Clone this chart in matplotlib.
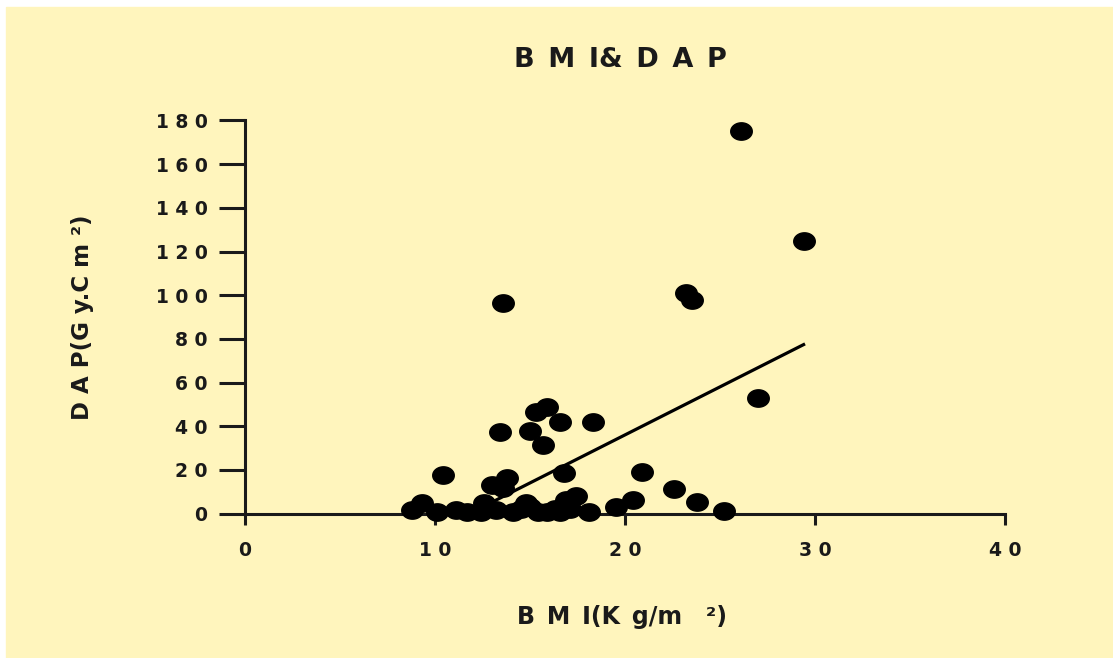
import numpy as np
import matplotlib
matplotlib.use("Agg")
import matplotlib.pyplot as plt
from matplotlib.path import Path
from matplotlib.patches import Rectangle

# --- data -----------------------------------------------------------------
BMI = [26.1, 29.4, 23.2, 23.5, 13.6, 27.0, 15.9, 15.3, 18.3, 16.6,
       13.4, 15.0, 15.7, 10.4, 20.9, 16.8, 13.8, 13.0, 13.6, 22.6,
       17.4, 16.9, 20.4, 23.8, 25.2, 19.5, 18.1,
       8.8, 9.3, 10.1, 11.1, 11.7, 12.4, 12.6, 13.2, 14.1, 14.5,
       14.8, 15.0, 15.4, 15.9, 16.3, 16.6, 17.1]
DAP = [175.2, 124.8, 101.0, 97.9, 96.4, 52.9, 48.8, 46.5, 41.9, 41.9,
       37.3, 37.8, 31.4, 17.6, 19.0, 18.6, 16.3, 13.1, 11.7, 11.2,
       8.0, 6.0, 6.2, 5.3, 1.1, 3.0, 0.9,
       1.4, 5.0, 0.8, 1.6, 0.5, 0.8, 4.6, 1.5, 0.8, 2.0,
       5.0, 2.8, 0.8, 0.8, 2.0, 0.8, 2.0]

# regression line
FIT_SLOPE = 4.4
FIT_INTERCEPT = -52.0

X_TICKS = [0, 10, 20, 30, 40]
Y_TICKS = [0, 20, 40, 60, 80, 100, 120, 140, 160, 180]

EN = "\u2002"
TITLE = EN.join("BMI") + "&" + EN + EN.join("DAP")
XLABEL = EN.join("BMI") + "(K" + EN + "g/m" + EN + EN + "\u00b2)"
YLABEL = " ".join("DAP") + "(G y.C m " + "\u00b2)"

BG = "#fff5bd"
INK = "#1a1a1a"


def spaced(v):
    # wide letter spacing like the original tick labels
    return " ".join(str(v))


plt.rcParams["font.family"] = "DejaVu Sans"
plt.rcParams["font.weight"] = "bold"

fig = plt.figure(figsize=(11.13, 6.58), dpi=100, facecolor="white")
# yellow panel with a thin white strip on the top and left
fig.patches.append(Rectangle((6 / 1113, 0), 1, (658 - 7) / 658,
                             transform=fig.transFigure, color=BG,
                             zorder=-10))

ax = fig.add_axes([245 / 1113, (658 - 513.5) / 658,
                   760 / 1113, 393 / 658])
ax.set_facecolor("none")

# slightly wide ellipse, like the stretched dots in the original
t = np.linspace(0, 2 * np.pi, 64)
ellipse = Path(np.column_stack([1.24 * np.cos(t), np.sin(t)]), closed=True)

ax.plot(BMI, DAP, linestyle="none", marker=ellipse, markersize=15.5,
        color="black", clip_on=False, zorder=3)

xs = np.array([min(BMI), max(BMI)])
ax.plot(xs, FIT_SLOPE * xs + FIT_INTERCEPT, color="black", linewidth=2.3,
        zorder=4)

ax.set_xlim(0, 40)
ax.set_ylim(0, 180)
ax.set_xticks(X_TICKS)
ax.set_xticklabels([spaced(v) for v in X_TICKS])
ax.set_yticks(Y_TICKS)
ax.set_yticklabels([spaced(v) for v in Y_TICKS])

for side in ("top", "right"):
    ax.spines[side].set_visible(False)
for side in ("left", "bottom"):
    ax.spines[side].set_linewidth(2.2)
    ax.spines[side].set_color(INK)

ax.tick_params(axis="y", length=19, width=2.2, color=INK, pad=8,
               labelsize=13.5, labelcolor=INK)
ax.tick_params(axis="x", length=8, width=2.2, color=INK, pad=12,
               labelsize=13.5, labelcolor=INK)

fig.text(620 / 1113, 1 - 60 / 658, TITLE, ha="center", va="center",
         fontsize=19.5, fontweight="bold", color=INK)
fig.text(622 / 1113, 1 - 617 / 658, XLABEL, ha="center", va="center",
         fontsize=17, fontweight="bold", color=INK)
fig.text(83 / 1113, 1 - 317 / 658, YLABEL, ha="center", va="center",
         rotation=90, fontsize=16.5, fontweight="bold", color=INK)

fig.savefig("out.png", dpi=100, facecolor=fig.get_facecolor())
